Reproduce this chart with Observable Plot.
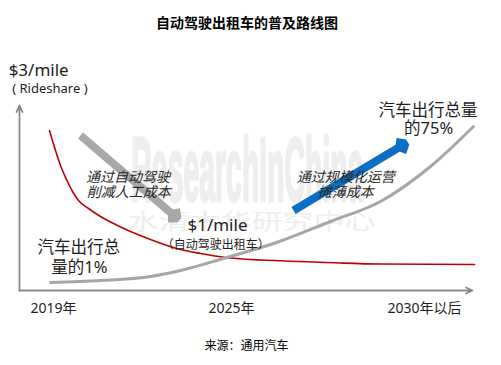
<!DOCTYPE html>
<html><head><meta charset="utf-8">
<script src="https://cdn.jsdelivr.net/npm/d3@7"></script>
<script src="https://cdn.jsdelivr.net/npm/@observablehq/plot@0.6"></script>
<style>
body{margin:0;background:#fff;width:501px;height:365px;overflow:hidden;font-family:"Noto Sans CJK SC",sans-serif}
#title{height:44px;line-height:44px;text-align:center;font-size:14px;font-weight:bold;color:#000;padding-right:7px}
#src{height:36px;line-height:32px;text-align:center;font-size:12px;color:#000;padding-right:8px}
#chart svg{display:block}
</style></head><body>
<div id="title">自动驾驶出租车的普及路线图</div>
<div id="chart"></div>
<div id="src">来源：通用汽车</div>
<script>
// Cost per mile curve (red), abstract 0-100 units
const costX = [6.62,7.95,9.05,10.38,11.70,13.02,15.23,17.88,21.19,24.50,28.92,35.54,39.96,45.47,50.99,62.03,70.86,79.69,100.44];
const costY = [86.49,75.68,67.57,60.0,53.51,48.65,44.32,40.0,35.68,31.89,27.57,22.16,20.0,17.84,16.76,15.68,14.86,14.32,14.05];
// Share of total car trips curve (gray)
const shareX = [6.84,17.88,28.92,35.54,45.03,56.07,68.65,79.69,90.73,100.22];
const shareY = [4.32,5.41,7.57,10.81,17.30,25.41,37.30,48.11,67.03,88.65];
// Tick labels
const tickPos = [7.5,46.8,89.4];
const tickLabels = ["2019年","2025年","2030年以后"];
// Trend arrows [x1,y1,x2,y2]
const costArrow = [13.47,83.78,34.88,38.92];
const scaleArrow = [60.49,43.24,85.21,79.46];
// Annotations
const bigText = ["汽车出行总量","的75%","汽车出行总","量的1%"];
const bigX = [90.2,90.3,13.1,13.2];
const bigY = [97.3,87.6,23.2,12.4];
const italicText = ["通过自动驾驶","削减人工成本","通过规模化运营","摊薄成本"];
const italicX = [23.95,24.1,72.0,72.0];
const italicY = [61.1,53.0,61.1,53.0];
const unitText = ["$3/mile","( Rideshare )"];
const unitX = [-2.4,-1.6];
const unitY = [118.9,109.2];
const targetText = ["$1/mile","（自动驾驶出租车）"];
const targetX = [43.7,43.3];
const targetY = [35.1,24.3];
const wmText = ["ResearchInChina","水清木华研究中心"];
const wmX = [50.3,51.2];
const wmY = [48.6,36.8];

const cost = costX.map((x,i)=>({x,y:costY[i]}));
const share = shareX.map((x,i)=>({x,y:shareY[i]}));
const ticks = tickPos.map((x,i)=>({x,label:tickLabels[i]}));
const arrows = [
  {x1:costArrow[0],y1:costArrow[1],x2:costArrow[2],y2:costArrow[3],c:"#a8a8a8"},
  {x1:scaleArrow[0],y1:scaleArrow[1],x2:scaleArrow[2],y2:scaleArrow[3],c:"#0b6fc6"}
];
const axes = [{x1:0,y1:0,x2:0,y2:100},{x1:0,y1:0,x2:100,y2:0}];
const mk = (t,X,Y)=>t.map((s,i)=>({s,x:X[i],y:Y[i],i}));
const big = mk(bigText,bigX,bigY), ital = mk(italicText,italicX,italicY);
const unit = mk(unitText,unitX,unitY), target = mk(targetText,targetX,targetY);

const FF = '"Noto Sans","Noto Sans CJK SC",sans-serif';
const chart = Plot.plot({
  width:501, height:285, marginTop:61, marginBottom:39, marginLeft:19, marginRight:29,
  x:{domain:[0,100], axis:null}, y:{domain:[0,100], axis:null},
  style:{fontFamily:FF, background:"white", overflow:"visible"},
  marks:[
    Plot.text([wmText[0]],{x:[wmX[0]],y:[wmY[0]],text:d=>d,fontSize:90,fontWeight:"bold",fill:"#eeeeee",stroke:"#eeeeee",strokeWidth:3,lineAnchor:"bottom",fontFamily:"Liberation Sans"}),
    Plot.text([wmText[1]],{x:[wmX[1]],y:[wmY[1]],text:d=>d,fontSize:22,fill:"#eeeeee"}),
    Plot.arrow(axes,{x1:"x1",y1:"y1",x2:"x2",y2:"y2",stroke:"#8a8a8a",strokeWidth:1.8,headLength:6,headAngle:50}),
    Plot.line(cost,{x:"x",y:"y",stroke:"#c00000",strokeWidth:1.6,curve:"monotone-x"}),
    Plot.line(share,{x:"x",y:"y",stroke:"#a6a6a6",strokeWidth:3,curve:"monotone-x"}),
    Plot.arrow(arrows,{x1:"x1",y1:"y1",x2:"x2",y2:"y2",stroke:"c",strokeWidth:8,headLength:1.8,headAngle:80,strokeLinejoin:"miter",strokeLinecap:"butt"}),
    Plot.text(ital,{x:"x",y:"y",text:"s",fontSize:14,fontStyle:"italic",fill:"#2a2a2a"}),
    Plot.text(big,{x:"x",y:"y",text:"s",fontSize:16.5,fill:"#1e1e1e"}),
    Plot.text(unit,{filter:d=>d.i===0,x:"x",y:"y",text:"s",fontSize:17,fill:"#1e1e1e",textAnchor:"start"}),
    Plot.text(unit,{filter:d=>d.i===1,x:"x",y:"y",text:"s",fontSize:13,fill:"#1e1e1e",textAnchor:"start"}),
    Plot.text(target,{filter:d=>d.i===0,x:"x",y:"y",text:"s",fontSize:17,fill:"#1e1e1e"}),
    Plot.text(target,{filter:d=>d.i===1,x:"x",y:"y",text:"s",fontSize:12,fill:"#1e1e1e"}),
    Plot.text(ticks,{x:"x",y:-9.7,text:"label",fontSize:14,fill:"#1e1e1e"})
  ]
});
document.getElementById("chart").appendChild(chart);
d3.select(chart).selectAll("text").each(function(){
  const t=this.textContent;
  if(t===wmText[0]){this.setAttribute("textLength",232);this.setAttribute("lengthAdjust","spacingAndGlyphs");}
  if(t===wmText[1]){this.setAttribute("textLength",248);this.setAttribute("lengthAdjust","spacingAndGlyphs");}
});
</script>
</body></html>
